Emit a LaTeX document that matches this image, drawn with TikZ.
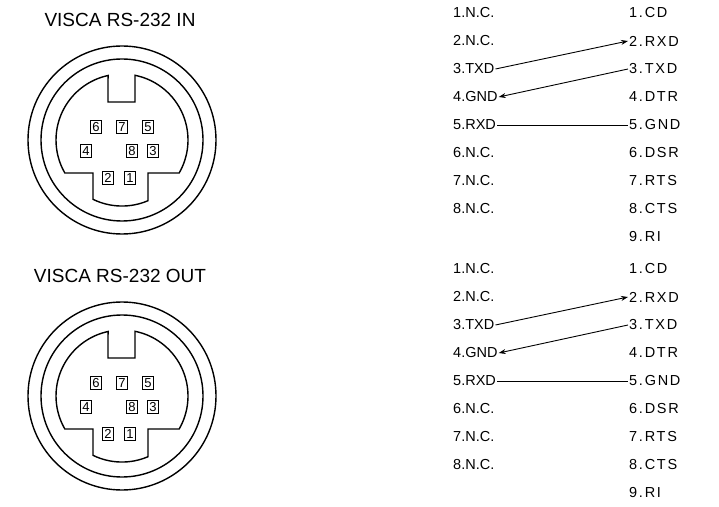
\documentclass[tikz,border=0pt]{standalone}
\usepackage{fontspec}
\setmainfont{Liberation Sans}
\usetikzlibrary{arrows.meta,calc}

\tikzset{
  pin/.style={draw,thin,inner sep=0.8pt,minimum width=11pt,minimum height=13pt,font=\fontsize{13}{13}\selectfont},
  lab/.style={anchor=west,inner sep=1pt,font=\fontsize{14.5}{15}\selectfont},
  rlab/.style={lab,font=\fontsize{14.5}{15}\selectfont\addfontfeature{LetterSpace=12}},
  ttl/.style={font=\fontsize{19}{20}\selectfont},
  wire/.style={line width=0.9pt}
}

\begin{document}
\begin{tikzpicture}[x=1pt,y=1pt]
\useasboundingbox (0,0) rectangle (719,506);

\foreach \blk/\dy/\name in {in/0/IN,out/256/OUT}{
  \begin{scope}[yshift=-\dy pt]
  % connector face
  \node[ttl] (t\blk) at (120,486) {VISCA RS-232 \name};
  \draw[line width=1.4pt] (122,366) circle (94);
  \draw[line width=1.4pt] (122,366) circle (81);
  \draw[line width=1.4pt] ($(122,366)+(78.6:66)$)
    arc[start angle=78.6,end angle=-30,radius=66] -- (148,333) -- (148,305.3)
    arc[start angle=-66.8,end angle=-116.1,radius=66] -- (93,333) -- ($(122,366)+(210:66)$)
    arc[start angle=210,end angle=102.2,radius=66] -- (108,404) -- (135,404) -- cycle;
  \node[pin] (\blk p6) at (96,379) {6};
  \node[pin] (\blk p7) at (122,379) {7};
  \node[pin] (\blk p5) at (148,379) {5};
  \node[pin] (\blk p4) at (86,355) {4};
  \node[pin] (\blk p8) at (132,355) {8};
  \node[pin] (\blk p3) at (153,355) {3};
  \node[pin] (\blk p2) at (108,328) {2};
  \node[pin] (\blk p1) at (130,328) {1};
  % pin lists
  \foreach \i/\t in {1/N.C.,2/N.C.,3/TXD,4/GND,5/RXD,6/N.C.,7/N.C.,8/N.C.}
    \node[lab] (\blk l\i) at (452,{493-28*(\i-1)}) {\i.\t};
  \foreach \i/\t in {1/CD,2/RXD,3/TXD,4/DTR,5/GND,6/DSR,7/RTS,8/CTS,9/RI}
    \node[rlab] (\blk r\i) at (628,{493-28*(\i-1)}) {\i.\t};
  \draw[wire,-{Stealth[length=7pt,width=5pt]}] (\blk l3.east) -- (\blk r2.west);
  \draw[wire,-{Stealth[length=7pt,width=5pt]}] (\blk r3.west) -- (\blk l4.east);
  \draw[wire] (\blk l5.east) -- (\blk r5.west);
  \end{scope}
}
\end{tikzpicture}
\end{document}
